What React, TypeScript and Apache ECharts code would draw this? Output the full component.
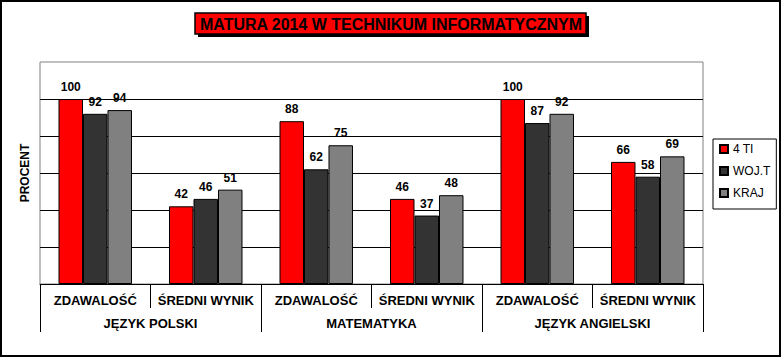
import React, { useEffect, useRef } from "react";
import * as echarts from "echarts";

const subCategories = ["ZDAWALOŚĆ", "ŚREDNI WYNIK", "ZDAWALOŚĆ", "ŚREDNI WYNIK", "ZDAWALOŚĆ", "ŚREDNI WYNIK"];
const groupCategories = ["JĘZYK POLSKI", "MATEMATYKA", "JĘZYK ANGIELSKI"];
const seriesNames = ["4 TI", "WOJ.T", "KRAJ"];
const valuesTI = [100, 42, 88, 46, 100, 66];
const valuesWoj = [92, 46, 62, 37, 87, 58];
const valuesKraj = [94, 51, 75, 48, 92, 69];
const seriesColors = ["#FF0000", "#333333", "#808080"];
const titleText = "MATURA 2014 W TECHNIKUM INFORMATYCZNYM";
const yAxisTitle = "PROCENT";

const FONT = '"Liberation Sans", Arial, sans-serif';

export default function App() {
  const ref = useRef<HTMLDivElement>(null);
  useEffect(() => {
    if (!ref.current) return;
    const chart = echarts.init(ref.current, null, { renderer: "svg" });
    const allValues = [valuesTI, valuesWoj, valuesKraj];
    chart.setOption({
      animation: false,
      backgroundColor: "#ffffff",
      textStyle: { fontFamily: FONT },
      grid: {
        left: 40,
        top: 62,
        right: 80,
        bottom: 74,
        show: true,
        borderColor: "#808080",
        borderWidth: 1,
        backgroundColor: "transparent",
      },
      legend: {
        orient: "vertical",
        left: 713,
        top: 139,
        padding: [4, 6, 10, 6],
        itemGap: 10,
        itemWidth: 8,
        itemHeight: 8,
        borderColor: "#000",
        borderWidth: 1,
        icon: "rect",
        textStyle: { fontFamily: FONT, fontSize: 12, color: "#000", lineHeight: 12 },
        data: seriesNames,
      },
      xAxis: [
        {
          type: "category",
          data: subCategories,
          position: "bottom",
          axisLine: { show: true, lineStyle: { color: "#000", width: 1 } },
          axisTick: { show: true, length: 24, interval: 0, lineStyle: { color: "#000" } },
          axisLabel: {
            interval: 0,
            margin: 10,
            fontFamily: FONT,
            fontSize: 13,
            fontWeight: "bold",
            color: "#000",
          },
        },
        {
          type: "category",
          data: groupCategories,
          position: "bottom",
          axisLine: { show: false },
          axisTick: { show: true, length: 48, interval: 0, lineStyle: { color: "#000" } },
          axisLabel: {
            interval: 0,
            margin: 33,
            fontFamily: FONT,
            fontSize: 13,
            fontWeight: "bold",
            color: "#000",
          },
        },
      ],
      yAxis: {
        type: "value",
        min: 0,
        max: 120,
        interval: 20,
        name: yAxisTitle,
        nameLocation: "middle",
        nameRotate: 90,
        nameGap: 9,
        nameTextStyle: { fontFamily: FONT, fontSize: 12, fontWeight: "bold", color: "#000" },
        axisLine: { show: false },
        axisTick: { show: false },
        axisLabel: { show: false },
        splitLine: {
          show: true,
          showMaxLine: false,
          lineStyle: { color: "#000", width: 1 },
        },
      },
      series: seriesNames.map((name, i) => ({
        name,
        type: "bar",
        xAxisIndex: 0,
        data: allValues[i],
        barGap: "0%",
        barCategoryGap: "33.5%",
        itemStyle: { color: seriesColors[i], borderColor: "#000", borderWidth: 1 },
        label: {
          show: true,
          position: "top",
          distance: 6,
          fontFamily: FONT,
          fontSize: 12,
          fontWeight: "bold",
          color: "#000",
        },
      })),
      graphic: [
        {
          type: "rect",
          shape: { x: 1, y: 1, width: 779, height: 355 },
          style: { fill: "none", stroke: "#000", lineWidth: 2 },
          silent: true,
          z: 100,
        },
        {
          type: "rect",
          shape: { x: 198, y: 16, width: 391, height: 21 },
          style: { fill: "#000" },
          silent: true,
        },
        {
          type: "rect",
          shape: { x: 195, y: 13, width: 391, height: 21 },
          style: { fill: "#FF0000", stroke: "#000", lineWidth: 1.5 },
          silent: true,
        },
        {
          type: "text",
          x: 391,
          y: 24,
          scaleX: 0.94,
          style: {
            text: titleText,
            fontFamily: FONT,
            fontSize: 17,
            fontWeight: "bold",
            fill: "#000",
            textAlign: "center",
            textVerticalAlign: "middle",
          },
          silent: true,
        },
      ],
    });
    return () => chart.dispose();
  }, []);
  return (
    <div
      ref={ref}
      style={{ position: "fixed", left: 0, top: 0, width: 783, height: 358 }}
    />
  );
}
